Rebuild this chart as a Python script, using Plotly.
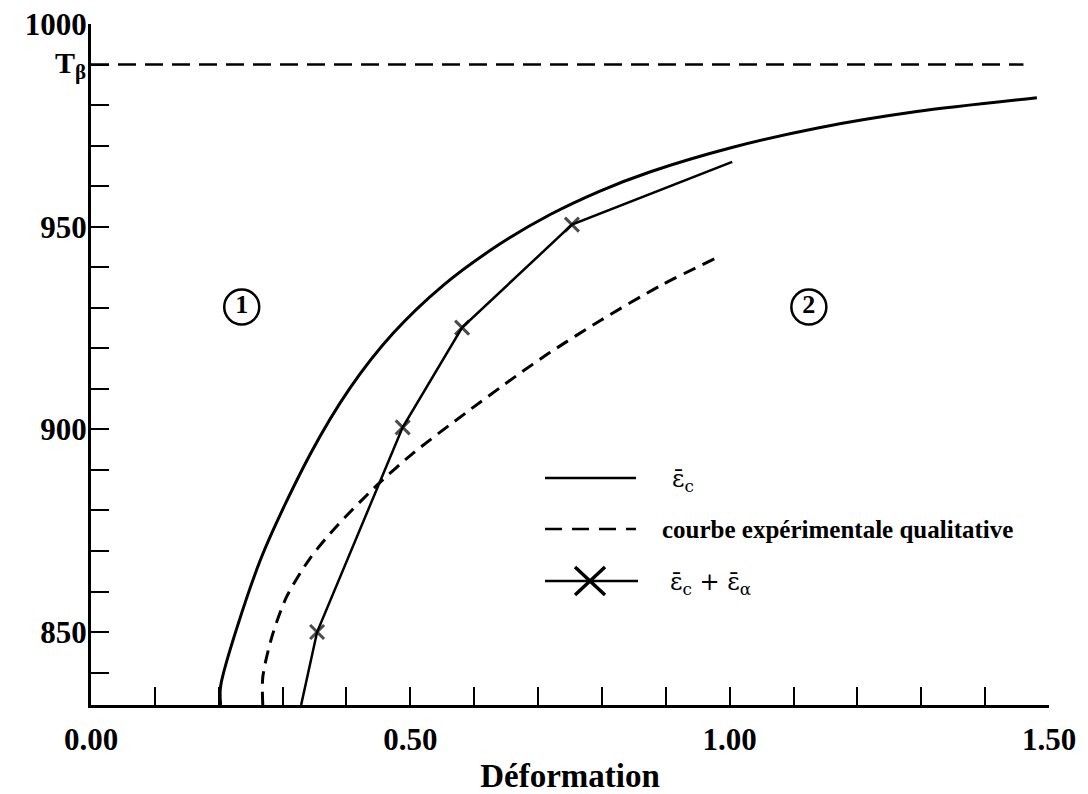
import plotly.graph_objects as go

# --- data ---
# eps_c (solid curve)
epsc_x = [0.203, 0.203, 0.265, 0.343, 0.406, 0.473, 0.552, 0.640, 0.719,
          0.797, 0.875, 1.005, 1.136, 1.293, 1.481]
epsc_y = [832.0, 836.7, 867.7, 893.8, 910.3, 923.7, 935.6, 945.7, 953.0,
          958.8, 963.5, 969.6, 974.3, 978.4, 981.8]

# qualitative experimental curve (dashed)
exp_x = [0.269, 0.269, 0.283, 0.306, 0.343, 0.384, 0.447, 0.505, 0.588, 0.666,
         0.719, 0.797, 0.891, 0.982]
exp_y = [832.0, 838.9, 848.7, 858.6, 868.2, 876.0, 886.1, 894.2, 904.2, 913.2,
         919.0, 926.8, 935.4, 942.5]

# eps_c + eps_alpha (line with crosses)
sum_x = [0.329, 0.354, 0.488, 0.581, 0.753, 1.004]
sum_y = [832.0, 850.0, 900.5, 925.1, 950.5, 966.0]
sum_marked = [False, True, True, True, True, False]

# T beta level
tbeta = 990
tbeta_x = [0.0, 1.46]

# domain labels
region_x = [0.236, 1.124]
region_y = [930.2, 930.2]
region_labels = ["1", "2"]

# axes
x_tick_vals = [round(i * 0.1, 1) for i in range(16)]
x_tick_text = ["0.00" if v == 0 else "0.50" if v == 0.5 else "1.00" if v == 1.0
               else "1.50" if v == 1.5 else "" for v in x_tick_vals]
y_tick_vals = list(range(840, 1001, 10))
y_tick_text = [str(v) if v % 50 == 0 else "" for v in y_tick_vals]

serif = "Liberation Serif"
greek = "DejaVu Serif"

fig = go.Figure()

fig.add_trace(go.Scatter(x=tbeta_x, y=[tbeta, tbeta], mode="lines",
                         line=dict(color="black", width=2.5, dash="18px,9px"),
                         hoverinfo="skip"))

fig.add_trace(go.Scatter(x=epsc_x, y=epsc_y, mode="lines",
                         line=dict(color="black", width=3, shape="spline", smoothing=0.8)))

fig.add_trace(go.Scatter(x=exp_x, y=exp_y, mode="lines",
                         line=dict(color="black", width=3, dash="13px,8px",
                                   shape="spline", smoothing=0.8)))

fig.add_trace(go.Scatter(x=sum_x, y=sum_y, mode="lines+markers",
                         line=dict(color="black", width=2.5),
                         marker=dict(symbol="x-thin", color="black",
                                     size=[14 if m else 0 for m in sum_marked],
                                     line=dict(color="black", width=3))))

fig.add_trace(go.Scatter(x=region_x, y=region_y, mode="markers+text",
                         text=region_labels, textposition="middle center",
                         textfont=dict(family=serif, size=26, color="black", weight="bold"),
                         marker=dict(symbol="circle-open", size=35, color="black",
                                     line=dict(color="black", width=2.5))))

# hand-drawn legend (lines, big cross, labels)
px = lambda p: (p - 91) / 958
py = lambda p: (705 - p) / 681
shapes = [
    dict(type="line", xref="paper", yref="paper", x0=px(545), x1=px(636), y0=py(478), y1=py(478),
         line=dict(color="black", width=2.5)),
    dict(type="line", xref="paper", yref="paper", x0=px(545), x1=px(636), y0=py(529), y1=py(529),
         line=dict(color="black", width=2.5, dash="17px,10px")),
    dict(type="line", xref="paper", yref="paper", x0=px(545), x1=px(638), y0=py(581), y1=py(581),
         line=dict(color="black", width=2.5)),
    dict(type="line", xref="paper", yref="paper", xsizemode="pixel", ysizemode="pixel",
         xanchor=px(590), yanchor=py(581), x0=-15, x1=15, y0=-14, y1=14,
         line=dict(color="black", width=3.5)),
    dict(type="line", xref="paper", yref="paper", xsizemode="pixel", ysizemode="pixel",
         xanchor=px(590), yanchor=py(581), x0=-15, x1=15, y0=14, y1=-14,
         line=dict(color="black", width=3.5)),
]

eps = "\u03b5\u0304"
annotations = [
    dict(xref="paper", yref="paper", x=px(670), y=py(480), xanchor="left", yanchor="middle",
         text=f"{eps}<sub>c</sub>", showarrow=False,
         font=dict(family=greek, size=24, color="black")),
    dict(xref="paper", yref="paper", x=px(660), y=py(529), xanchor="left", yanchor="middle",
         text="courbe expérimentale qualitative", showarrow=False,
         font=dict(family=serif, size=25, color="black", weight="bold")),
    dict(xref="paper", yref="paper", x=px(668), y=py(583), xanchor="left", yanchor="middle",
         text=f"{eps}<sub>c</sub> + {eps}<sub>\u03b1</sub>", showarrow=False,
         font=dict(family=greek, size=24, color="black")),
    dict(xref="paper", yref="y", x=px(88), y=tbeta, xanchor="right", yanchor="middle",
         text="T<sub>\u03b2</sub>", showarrow=False,
         font=dict(family=serif, size=30, color="black", weight="bold")),
]

# the page body adds an 8px margin, so the figure is sized/offset to compensate
fig.update_layout(
    width=1080, height=786,
    margin=dict(l=83, r=39, t=16, b=89),
    paper_bgcolor="white", plot_bgcolor="white",
    showlegend=False,
    shapes=shapes, annotations=annotations,
    font=dict(family=serif, color="black"),
)

fig.update_xaxes(range=[0, 1.5], tickvals=x_tick_vals, ticktext=x_tick_text,
                 ticks="inside", ticklen=18, tickwidth=2, tickcolor="black",
                 showline=True, linewidth=3, linecolor="black", automargin=False,
                 showgrid=False, zeroline=False, ticklabelstandoff=5,
                 ticklabeloverflow="allow",
                 tickfont=dict(family=serif, size=31, color="black", weight="bold"),
                 title=dict(text="Déformation", standoff=12,
                            font=dict(family=serif, size=33, color="black", weight="bold")))

fig.update_yaxes(range=[832, 1000], tickvals=y_tick_vals, ticktext=y_tick_text,
                 ticks="inside", ticklen=18, tickwidth=2, tickcolor="black",
                 showline=True, linewidth=3, linecolor="black", automargin=False,
                 showgrid=False, zeroline=False, ticklabelstandoff=-5,
                 ticklabeloverflow="allow",
                 tickfont=dict(family=serif, size=31, color="black", weight="bold"))

fig.write_html("out.html")
